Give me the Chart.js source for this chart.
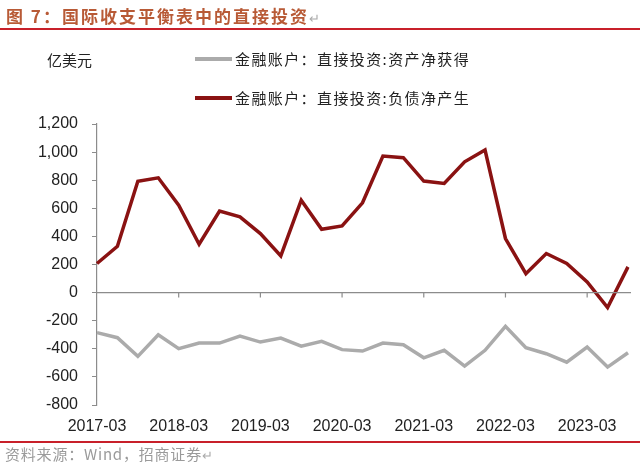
<!DOCTYPE html>
<html>
<head>
<meta charset="utf-8">
<script src="https://cdn.jsdelivr.net/npm/chart.js@4.4.1/dist/chart.umd.min.js"></script>
<style>
  html,body{margin:0;padding:0;background:#fff}
  #wrap{position:relative;width:640px;height:469px;overflow:hidden;font-family:'Noto Sans CJK SC',sans-serif}
  #title{position:absolute;left:6px;top:3px;font-size:17px;font-weight:700;letter-spacing:2px;color:#b85a36;white-space:nowrap}
  .mark{color:#aaa;font-weight:400;font-size:13px;letter-spacing:0}
  #rule-top{position:absolute;left:0;top:28px;width:640px;height:2px;background:#c8202a}
  #rule-bot{position:absolute;left:0;top:441px;width:640px;height:2px;background:#c8202a}
  #source{position:absolute;left:5px;top:443px;font-size:15px;letter-spacing:0.8px;color:#9a9a9a;white-space:nowrap}
  #unit{position:absolute;left:47px;top:49px;font-size:15px;color:#222}
  .lg{position:absolute;left:195px;display:flex;align-items:center;font-size:15px;letter-spacing:1.4px;color:#222;white-space:nowrap}
  .lg i{display:inline-block;width:37px;height:4px;margin-right:3px}
  #chart{position:absolute;left:0;top:0}
</style>
</head>
<body>
<div id="wrap">
  <canvas id="chart" width="640" height="469"></canvas>
  <div id="title">图 7：国际收支平衡表中的直接投资<span class="mark">↵</span></div>
  <div id="rule-top"></div>
  <div id="unit">亿美元</div>
  <div id="legend"></div>
  <div id="rule-bot"></div>
  <div id="source">资料来源：Wind，招商证券<span class="mark">↵</span></div>
</div>
<script>
// quarters 2017-03 .. 2023-09
const quarters = ['2017-03','2017-06','2017-09','2017-12','2018-03','2018-06','2018-09','2018-12',
  '2019-03','2019-06','2019-09','2019-12','2020-03','2020-06','2020-09','2020-12',
  '2021-03','2021-06','2021-09','2021-12','2022-03','2022-06','2022-09','2022-12',
  '2023-03','2023-06','2023-09'];

// 亿美元
const assetNet = [-285,-321,-454,-300,-399,-359,-359,-309,-352,-324,-381,-347,-406,-416,-359,-371,
  -464,-411,-523,-411,-240,-392,-435,-495,-388,-530,-428];
const liabilityNet = [207,330,793,817,622,344,580,539,420,261,658,451,475,639,972,960,
  794,777,931,1015,385,135,278,207,76,-107,183];

const seriesNames = ['金融账户：直接投资:资产净获得','金融账户：直接投资:负债净产生'];
const seriesColors = ['#ababab','#8a1212'];
const yTicks = [-800,-600,-400,-200,0,200,400,600,800,1000,1200];

document.getElementById('legend').innerHTML = seriesNames.map((n,i)=>`
  <div class="lg" style="top:${48+i*39}px"><i style="background:${seriesColors[i]}"></i>${n}</div>`).join('');

// ticks hanging below the zero line, every 4 quarters
const zeroTicks = {
  id:'zeroTicks',
  afterDatasetsDraw(chart){
    const {ctx, scales:{x,y}} = chart;
    const y0 = y.getPixelForValue(0);
    ctx.save();
    ctx.strokeStyle = '#8c8c8c'; ctx.lineWidth = 1.2;
    ctx.beginPath();
    ctx.moveTo(chart.chartArea.left, y0); ctx.lineTo(chart.chartArea.right+3, y0);
    quarters.forEach((q,i)=>{
      if (i%4===0 && i>0){ const px = x.getPixelForValue(i); ctx.moveTo(px,y0); ctx.lineTo(px,y0+5); }
    });
    ctx.stroke();
    ctx.restore();
  }
};

new Chart(document.getElementById('chart'), {
  type:'line',
  data:{ labels:quarters, datasets:[
    {label:seriesNames[0],data:assetNet,borderColor:seriesColors[0],borderWidth:3.5,pointRadius:0,tension:0},
    {label:seriesNames[1],data:liabilityNet,borderColor:seriesColors[1],borderWidth:3.5,pointRadius:0,tension:0},
  ]},
  options:{
    responsive:false, animation:false,
    layout:{padding:{top:124,right:7,bottom:34,left:0}},
    plugins:{legend:{display:false},tooltip:{enabled:false}},
    scales:{
      x:{
        offset:false,
        grid:{display:false,drawTicks:false},
        border:{display:false},
        ticks:{autoSkip:false,maxRotation:0,padding:12,color:'#222',font:{family:'Liberation Sans',size:16},
          callback:(v,i)=> i%4===0 ? quarters[i] : ''},
        afterFit:s=>{ s.height = 30; }
      },
      y:{
        min:-800,max:1200,
        afterBuildTicks:s=>{ s.ticks = yTicks.map(v=>({value:v})); },
        grid:{drawOnChartArea:false,drawTicks:true,tickLength:5,tickColor:'#8c8c8c'},
        border:{display:true,color:'#8c8c8c',width:1.2},
        ticks:{padding:14,color:'#222',font:{family:'Liberation Sans',size:16},
          callback:v=>v.toLocaleString('en-US')},
        afterFit:s=>{ s.width = 97; }
      }
    }
  },
  plugins:[zeroTicks]
});
</script>
</body>
</html>
